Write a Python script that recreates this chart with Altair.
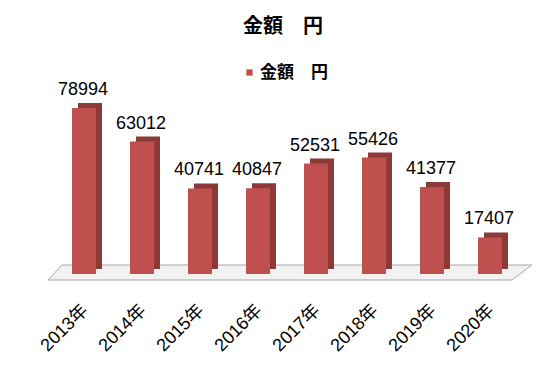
import altair as alt
import pandas as pd

# ---- data ----
years = ["2013年", "2014年", "2015年", "2016年", "2017年", "2018年", "2019年", "2020年"]
amounts = [78994, 63012, 40741, 40847, 52531, 55426, 41377, 17407]
series_name = "金額　円"
chart_title = "金額　円"

# decorative floor (in bar-slot units / value units)
floor_slot = [-0.62, -0.38, 7.38, 7.72]
floor_lo = [-2855, -2855, -2855, 4283]
floor_hi = [-2855, 4283, 4283, 4283]

df = pd.DataFrame({"year": years, "amount": amounts, "series": [series_name] * len(years)})
floor_df = pd.DataFrame({"slot": floor_slot, "lo": floor_lo, "hi": floor_hi})

FONT = "Liberation Sans, Noto Sans CJK JP"
CJK = "Noto Sans CJK JP"
W, H = 538, 232

y_scale = alt.Scale(domain=[-2855, 107547], nice=False, zero=False)
x_band = alt.Scale(range=[47, 511], paddingInner=0.586, paddingOuter=0.293)

floor = alt.Chart(floor_df).mark_area(
    fill="#F2F2F2", stroke="#A6A6A6", strokeWidth=1
).encode(
    x=alt.X("slot:Q", scale=alt.Scale(domain=[-76 / 58, (W - 76) / 58], nice=False, zero=False), axis=None),
    y=alt.Y("lo:Q", scale=y_scale, axis=None),
    y2="hi:Q",
)

x_axis = alt.Axis(
    title=None, labelAngle=-45, domain=False, ticks=False,
    labelFontSize=18, labelFont=FONT, labelColor="black", labelPadding=21, labelOffset=-5,
)

base = alt.Chart(df).encode(
    x=alt.X("year:N", sort=years, scale=x_band, axis=None),
    y=alt.Y("amount:Q", scale=y_scale, axis=None),
)

side = base.mark_bar(color="#8C3A38", xOffset=6, yOffset=-5)

front = base.mark_bar().encode(
    x=alt.X("year:N", sort=years, scale=x_band, axis=x_axis),
    color=alt.Color(
        "series:N",
        scale=alt.Scale(range=["#C0504D"]),
        legend=alt.Legend(
            title=None, orient="none", legendX=233, legendY=16,
            symbolType="square", symbolSize=40, symbolStrokeWidth=0, labelOffset=2,
            labelFont=CJK, labelFontSize=17, labelFontWeight="bold", labelColor="black",
        ),
    ),
)

labels = base.mark_text(
    dy=-13, dx=-1, baseline="alphabetic", font=FONT, fontSize=18, color="black"
).encode(text=alt.Text("amount:Q", format="d"))

chart = (
    alt.layer(floor, side, front, labels)
    .resolve_scale(x="independent")
    .properties(
        width=W,
        height=H,
        title=alt.TitleParams(
            chart_title, font=CJK, fontSize=20, fontWeight="bold", color="black",
            anchor="middle", dx=6, offset=11,
        ),
        autosize=alt.AutoSizeParams(type="none"),
        padding={"left": 0, "top": 40, "right": 0, "bottom": 80},
    )
    .configure_view(stroke=None)
)

chart.save("out.html", embed_options={"renderer": "svg", "actions": False})
